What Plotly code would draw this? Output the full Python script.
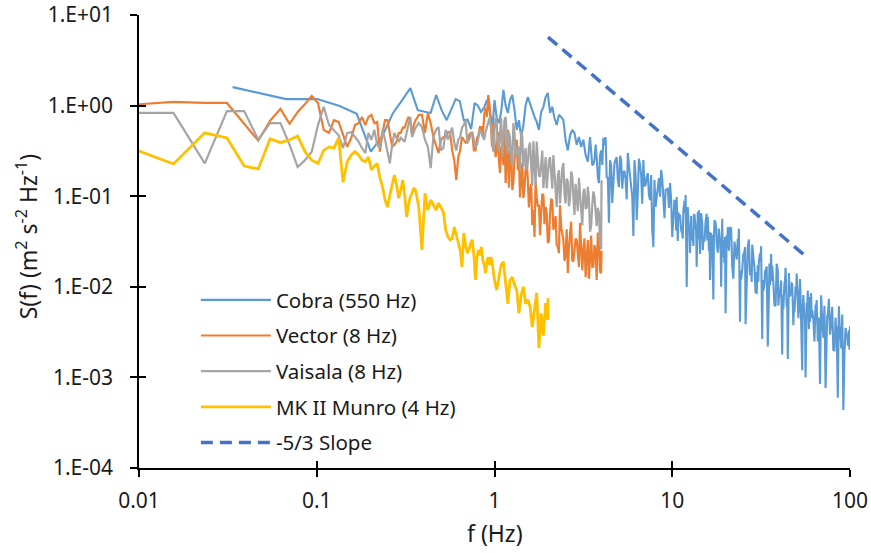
import plotly.graph_objects as go

# ---------------- data ----------------
# low-frequency spectral bins (Hz) for the 8 Hz / 4 Hz sensors
f_low = [0.00781, 0.01563, 0.02344, 0.03125, 0.03906, 0.04688, 0.05469, 0.0625, 0.07031, 0.07813,
         0.08594, 0.09375, 0.1016, 0.1094, 0.1172, 0.125, 0.1328, 0.1406, 0.1484, 0.1563,
         0.1641, 0.1719, 0.1797, 0.1875, 0.1953, 0.2031, 0.2109, 0.2188, 0.2266, 0.2344,
         0.2422, 0.25, 0.2578, 0.2656, 0.2734, 0.2813, 0.2891, 0.2969, 0.3047, 0.3125,
         0.3203, 0.3281, 0.3359, 0.3438, 0.3516, 0.3594, 0.3672, 0.375]
f_mid = [0.3906, 0.4063, 0.4219, 0.4375, 0.4531, 0.4688, 0.4844, 0.5, 0.5156, 0.5313,
         0.5469, 0.5625, 0.5781, 0.5938, 0.6094, 0.625, 0.6406, 0.6563, 0.6719, 0.6875,
         0.7031, 0.7188, 0.7344, 0.75, 0.7656, 0.7813, 0.7969, 0.8125, 0.8281, 0.8438,
         0.8594, 0.875, 0.8906, 0.9063, 0.9219, 0.9375, 0.9531, 0.9688, 0.9844, 1.0]
f_dec1 = [1.000, 1.029, 1.059, 1.090, 1.122, 1.155, 1.189, 1.223, 1.259, 1.296,
          1.334, 1.372, 1.413, 1.454, 1.496, 1.540, 1.585, 1.631, 1.679, 1.728,
          1.778, 1.830, 1.884, 1.939, 1.995, 2.054, 2.113, 2.175, 2.239, 2.304,
          2.371, 2.441, 2.512, 2.585, 2.661, 2.738, 2.818, 2.901, 2.985, 3.073,
          3.162, 3.255, 3.350, 3.447, 3.548, 3.652, 3.758, 3.868, 3.981, 4.097,
          4.217, 4.340, 4.467, 4.597, 4.732, 4.870, 5.012, 5.158, 5.309, 5.464,
          5.623, 5.788, 5.957, 6.131, 6.310, 6.494, 6.683, 6.879, 7.079, 7.286,
          7.499, 7.718, 7.943, 8.175, 8.414, 8.660, 8.913, 9.173, 9.441, 9.716]
f_half1 = [1.014, 1.044, 1.074, 1.106, 1.138, 1.172, 1.206, 1.241, 1.277, 1.315,
           1.353, 1.392, 1.433, 1.475, 1.518, 1.562, 1.608, 1.655, 1.703, 1.753,
           1.804, 1.857, 1.911, 1.967, 2.024, 2.084, 2.144, 2.207, 2.271, 2.337,
           2.405, 2.476, 2.548, 2.622, 2.700, 2.778, 2.859, 2.943, 3.028, 3.118,
           3.208, 3.302, 3.399, 3.497, 3.599, 3.705, 3.813, 3.924, 4.039, 4.156,
           4.278, 4.403, 4.532, 4.664, 4.801, 4.941, 5.085, 5.233, 5.386, 5.543,
           5.705, 5.872, 6.043, 6.220, 6.401, 6.588, 6.780, 6.979, 7.182, 7.392,
           7.608, 7.830, 8.058, 8.294, 8.536, 8.786, 9.042, 9.306, 9.578, 9.857]
f_dec2 = [10.00, 10.29, 10.59, 10.90, 11.22, 11.55, 11.89, 12.23, 12.59, 12.96,
          13.34, 13.72, 14.13, 14.54, 14.96, 15.40, 15.85, 16.31, 16.79, 17.28,
          17.78, 18.30, 18.84, 19.39, 19.95, 20.54, 21.13, 21.75, 22.39, 23.04,
          23.71, 24.41, 25.12, 25.85, 26.61, 27.38, 28.18, 29.01, 29.85, 30.73,
          31.62, 32.55, 33.50, 34.47, 35.48, 36.52, 37.58, 38.68, 39.81, 40.97,
          42.17, 43.40, 44.67, 45.97, 47.32, 48.70, 50.12, 51.58, 53.09, 54.64,
          56.23, 57.88, 59.57, 61.31, 63.10, 64.94, 66.83, 68.79, 70.79, 72.86,
          74.99, 77.18, 79.43, 81.75, 84.14, 86.60, 89.13, 91.73, 94.41, 97.16, 100.0]
f_half2 = [10.14, 10.44, 10.74, 11.06, 11.38, 11.72, 12.06, 12.41, 12.77, 13.15,
           13.53, 13.92, 14.33, 14.75, 15.18, 15.62, 16.08, 16.55, 17.03, 17.53,
           18.04, 18.57, 19.11, 19.67, 20.24, 20.84, 21.44, 22.07, 22.71, 23.37,
           24.05, 24.76, 25.48, 26.22, 27.00, 27.78, 28.59, 29.43, 30.28, 31.18,
           32.08, 33.02, 33.99, 34.97, 35.99, 37.05, 38.13, 39.24, 40.39, 41.56,
           42.78, 44.03, 45.32, 46.64, 48.01, 49.41, 50.85, 52.33, 53.86, 55.43,
           57.05, 58.72, 60.43, 62.20, 64.01, 65.88, 67.80, 69.79, 71.82, 73.92,
           76.08, 78.30, 80.58, 82.94, 85.36, 87.86, 90.42, 93.06, 95.78, 98.57]
f_qtr2 = [10.22, 10.51, 10.82, 11.14, 11.46, 11.80, 12.15, 12.50, 12.86, 13.24,
          13.63, 14.02, 14.44, 14.86, 15.29, 15.74, 16.20, 16.67, 17.16, 17.66,
          18.17, 18.70, 19.25, 19.81, 20.38, 20.99, 21.59, 22.22, 22.88, 23.54,
          24.23, 24.94, 25.67, 26.41, 27.19, 27.98, 28.79, 29.64, 30.50, 31.40,
          32.31, 33.26, 34.23, 35.22, 36.25, 37.32, 38.40, 39.52, 40.68, 41.86,
          43.09, 44.35, 45.64, 46.97, 48.35, 49.76, 51.21, 52.70, 54.25, 55.83,
          57.46, 59.14, 60.87, 62.65, 64.48, 66.36, 68.29, 70.29, 72.33, 74.45,
          76.62, 78.86, 81.16, 83.53, 85.97, 88.49, 91.07, 93.73, 96.47, 99.28]

# Cobra (550 Hz)
cobra_f_low = [0.0336, 0.0672, 0.1008, 0.1344, 0.168, 0.2016, 0.2352, 0.2688, 0.3024, 0.336,
               0.370, 0.403, 0.437, 0.470, 0.504, 0.538, 0.571, 0.605, 0.638, 0.672,
               0.706, 0.739, 0.773, 0.806, 0.840, 0.874, 0.907, 0.941, 0.974]
cobra_s_low = [1.60, 1.18, 1.18, 0.99, 0.81, 0.31, 0.47, 0.83, 1.15, 1.56,
               0.89, 0.85, 0.83, 1.31, 0.89, 0.69, 0.89, 1.18, 1.12, 0.69,
               0.70, 0.55, 1.07, 1.00, 0.85, 0.95, 1.15, 0.85, 0.58]
cobra_s_dec1 = [1.15, 0.73, 0.64, 0.85, 1.49, 1.0, 0.83, 1.15, 1.31, 0.89,
                0.54, 0.69, 0.45, 0.61, 1.0, 1.24, 1.07, 0.89, 0.75, 0.66,
                0.54, 0.85, 0.97, 1.24, 1.38, 0.83, 0.97, 0.73, 0.61, 0.79,
                0.75, 0.69, 0.42, 0.32, 0.47, 0.54, 0.50, 0.37, 0.45, 0.35,
                0.42, 0.285, 0.24, 0.45, 0.22, 0.25, 0.27, 0.14, 0.32, 0.44,
                0.45, 0.163, 0.25, 0.084, 0.23, 0.27, 0.126, 0.25, 0.185, 0.151,
                0.30, 0.171, 0.098, 0.25, 0.0545, 0.26, 0.171, 0.25, 0.133, 0.18,
                0.091, 0.0424, 0.151, 0.098, 0.159, 0.195, 0.076, 0.117, 0.123, 0.14]
# Cobra values at f_half1[44:]
cobra_s_half1 = [0.225, 0.372, 0.162, 0.282, 0.221, 0.366, 0.159, 0.0510, 0.217, 0.124,
                 0.253, 0.152, 0.279, 0.121, 0.190, 0.0922, 0.221, 0.140, 0.0363, 0.172,
                 0.108, 0.222, 0.0824, 0.129, 0.163, 0.103, 0.171, 0.0274, 0.0760, 0.119,
                 0.0985, 0.155, 0.0572, 0.117, 0.0741, 0.0938]
cobra_s_dec2 = [0.0355, 0.091, 0.098, 0.062, 0.0424, 0.070, 0.103, 0.076, 0.0236, 0.0424,
                0.062, 0.0166, 0.070, 0.065, 0.0329, 0.052, 0.059, 0.0119, 0.0373, 0.0545,
                0.0304, 0.044, 0.010, 0.0329, 0.0051, 0.0457,
                0.0453, 0.0166, 0.0315, 0.0200, 0.0436, 0.0121, 0.0230, 0.00387, 0.0278, 0.0134,
                0.0292, 0.0161, 0.00833, 0.0195, 0.0281, 0.00897, 0.0149, 0.00220, 0.0104, 0.0172,
                0.00628, 0.0180, 0.00758, 0.0117, 0.00565, 0.0162, 0.00160, 0.00802, 0.0108, 0.00520,
                0.0140, 0.00586, 0.00371, 0.00809, 0.000995, 0.00912, 0.00411, 0.00553, 0.00249, 0.00715,
                0.00424, 0.00805, 0.00275, 0.000762, 0.00468, 0.00297, 0.00603, 0.00193, 0.00366, 0.00608,
                0.00208, 0.000438, 0.00353, 0.00224, 0.00366]
cobra_s_half2 = [0.0550, 0.0774, 0.0321, 0.0611, 0.0388, 0.0887, 0.00998, 0.0405, 0.0604, 0.0283,
                 0.0449, 0.0670, 0.0231, 0.0497, 0.0316, 0.0640, 0.0249, 0.0395, 0.00724, 0.0508,
                 0.0238, 0.0315, 0.0565, 0.0183, 0.0371, 0.0250, 0.0442, 0.0123, 0.0250, 0.0338,
                 0.00411, 0.0156, 0.0241, 0.0116, 0.0333, 0.0161, 0.0232, 0.00850, 0.0173, 0.0234,
                 0.00265, 0.0108, 0.0167, 0.00804, 0.0230, 0.0111, 0.00614, 0.0154, 0.00850, 0.00179,
                 0.0110, 0.00607, 0.0142, 0.00838, 0.00377, 0.0101, 0.00641, 0.0122, 0.00120, 0.00457,
                 0.00661, 0.00340, 0.00851, 0.00440, 0.00636, 0.00249, 0.000848, 0.00424, 0.00612, 0.00275,
                 0.00738, 0.00407, 0.00197, 0.00458, 0.000597, 0.00260, 0.00494, 0.00181, 0.00280, 0.00330]
cobra_s_qtr2 = [0.0619, 0.0418, 0.0663, 0.0476, 0.0341, 0.0650, 0.0414, 0.0483, 0.0326, 0.0622,
                0.0421, 0.0340, 0.0477, 0.0253, 0.0482, 0.0325, 0.0405, 0.0273, 0.0340, 0.0448,
                0.0268, 0.0333, 0.0212, 0.0356, 0.0272, 0.0406, 0.0192, 0.0278, 0.0202, 0.0292,
                0.0151, 0.0203, 0.0274, 0.0151, 0.0191, 0.0113, 0.0201, 0.0146, 0.0114, 0.0188,
                0.0119, 0.0151, 0.00889, 0.0181, 0.0115, 0.00897, 0.0129, 0.00623, 0.0103, 0.00805,
                0.0116, 0.00643, 0.00809, 0.0109, 0.00603, 0.00814, 0.00450, 0.00800, 0.00581, 0.00453,
                0.00611, 0.00769, 0.00455, 0.00355, 0.00549, 0.00458, 0.00577, 0.00341, 0.00266, 0.00472,
                0.00344, 0.00531, 0.00256, 0.00346, 0.00269, 0.00363, 0.00200, 0.00271, 0.00297, 0.00202]

# Vector (8 Hz)
vector_s_low = [1.0, 1.10, 1.07, 1.07, 0.63, 0.41, 0.68, 0.92, 0.63, 0.85,
                1.04, 1.28, 1.07, 0.54, 0.50, 0.69, 0.66, 0.47, 0.35, 0.44,
                0.61, 0.64, 0.75, 0.61, 0.75, 0.79, 0.64, 0.66, 0.31, 0.50,
                0.69, 0.69, 0.47, 0.35, 0.37, 0.40, 0.50, 0.50, 0.57, 0.57,
                0.66, 0.75, 0.69, 0.47, 0.61, 0.69, 0.73, 0.79]
vector_s_mid = [0.79, 0.50, 0.83, 0.64, 0.45, 0.37, 0.30, 0.42, 0.45, 0.45,
                0.51, 0.51, 0.32, 0.25, 0.15, 0.27, 0.32, 0.45, 0.42, 0.39,
                0.39, 0.47, 0.50, 0.50, 0.32, 0.32, 0.44, 0.47, 0.58, 0.58,
                0.45, 0.79, 0.94, 0.75, 1.31, 1.02, 0.64, 0.35, 0.64, 0.39]
vector_s_high = [0.32, 0.25, 0.35, 0.22, 0.14, 0.54, 0.32, 0.117, 0.25, 0.42,
                 0.285, 0.171, 0.095, 0.195, 0.151, 0.117, 0.048, 0.0355, 0.097, 0.08,
                 0.065, 0.103, 0.076, 0.0304, 0.065, 0.091, 0.0506, 0.0289, 0.0236, 0.0457,
                 0.0329, 0.0224, 0.0142, 0.0355, 0.0198, 0.0255, 0.0329, 0.0166, 0.0289, 0.0255,
                 0.0128, 0.0329, 0.0236, 0.0166, 0.0289, 0.0119, 0.0355, 0.0142]
vector_s_half = [0.271, 0.513, 0.181, 0.342, 0.563, 0.230, 0.124, 0.308, 0.144, 0.361,
                 0.194, 0.0968, 0.234, 0.121, 0.254, 0.0750, 0.137, 0.0708, 0.149, 0.0768,
                 0.0372, 0.106, 0.0492, 0.0647, 0.0322, 0.0920, 0.0426, 0.0604, 0.0279, 0.0798,
                 0.0381, 0.0194, 0.0431, 0.0272, 0.0523, 0.0189, 0.0340, 0.0214, 0.0508, 0.0152,
                 0.0343, 0.0220, 0.0123, 0.0368, 0.0167, 0.0248, 0.0396, 0.0146]
vector_s_end = 0.025

# Vaisala (8 Hz)
vaisala_s_low = [0.83, 0.83, 0.23, 0.87, 0.87, 0.42, 0.64, 0.64, 0.37, 0.21,
                 0.25, 0.31, 0.61, 0.97, 0.61, 0.54, 0.47, 0.34, 0.50, 0.51,
                 0.45, 0.40, 0.34, 0.30, 0.50, 0.42, 0.54, 0.37, 0.34, 0.54,
                 0.42, 0.31, 0.23, 0.37, 0.50, 0.44, 0.40, 0.44, 0.42, 0.40,
                 0.50, 0.61, 0.75, 0.45, 0.52, 0.57, 0.60, 0.64]
vaisala_s_mid = [0.58, 0.42, 0.35, 0.204, 0.45, 0.54, 0.58, 0.32, 0.34, 0.54,
                 0.42, 0.50, 0.57, 0.39, 0.32, 0.42, 0.45, 0.57, 0.61, 0.69,
                 0.39, 0.42, 0.47, 0.51, 0.42, 0.35, 0.37, 0.47, 0.54, 0.50,
                 0.45, 0.42, 0.51, 0.58, 0.66, 0.73, 0.61, 0.42, 0.31, 0.54]
vaisala_s_high = [0.65, 0.32, 0.73, 0.41, 0.75, 0.30, 0.44, 0.22, 0.50, 0.28,
                  0.33, 0.52, 0.21, 0.34, 0.235, 0.39, 0.131, 0.255, 0.40, 0.168,
                  0.26, 0.123, 0.27, 0.174, 0.27, 0.121, 0.179, 0.0756, 0.193, 0.126,
                  0.232, 0.083, 0.145, 0.094, 0.164, 0.062, 0.102, 0.160, 0.067, 0.111,
                  0.0726, 0.127, 0.0405, 0.0787, 0.099, 0.0466, 0.065, 0.026]
vaisala_s_half = [0.739, 0.367, 0.543, 0.269, 0.689, 0.381, 0.506, 0.250, 0.641, 0.285,
                  0.358, 0.198, 0.454, 0.280, 0.193, 0.355, 0.219, 0.404, 0.129, 0.265,
                  0.164, 0.319, 0.197, 0.122, 0.250, 0.154, 0.284, 0.113, 0.168, 0.0830,
                  0.201, 0.105, 0.156, 0.0774, 0.187, 0.104, 0.137, 0.0683, 0.101, 0.0475,
                  0.121, 0.0748, 0.0938, 0.0467, 0.113, 0.0560, 0.0745, 0.0297]
vaisala_s_end = 0.15

# MK II Munro (4 Hz)
munro_s_low = [0.38, 0.227, 0.50, 0.44, 0.215, 0.20, 0.43, 0.39, 0.42, 0.46,
               0.31, 0.25, 0.23, 0.32, 0.35, 0.34, 0.44, 0.143, 0.24, 0.285,
               0.31, 0.285, 0.25, 0.24, 0.27, 0.195, 0.215, 0.23, 0.159, 0.126,
               0.091, 0.076, 0.103, 0.14, 0.171, 0.133, 0.095, 0.117, 0.151, 0.103,
               0.059, 0.08, 0.098, 0.108, 0.123, 0.117, 0.091, 0.076]
munro_s_mid = [0.0255, 0.108, 0.070, 0.091, 0.08, 0.070, 0.084, 0.074, 0.067, 0.0424,
               0.0355, 0.0329, 0.034, 0.0457, 0.0373, 0.0329, 0.0255, 0.0166, 0.0393, 0.0289,
               0.0236, 0.0255, 0.0304, 0.0329, 0.0224, 0.0119, 0.021, 0.0255, 0.0224, 0.0275,
               0.0198, 0.0174, 0.0142, 0.0189, 0.0213, 0.0174, 0.0213, 0.0189, 0.0146, 0.0119]
munro_s_high = [0.0092, 0.0135, 0.0174, 0.0189, 0.0119, 0.0065, 0.0119, 0.0128, 0.0105, 0.0092,
                0.0051, 0.0081, 0.010, 0.0065, 0.0072, 0.006, 0.0036, 0.0056, 0.0086, 0.0021,
                0.0051, 0.0029, 0.0066, 0.0043, 0.0075]

# -5/3 reference slope
slope_f = [2.0, 56.0]
slope_s = [5.7, 0.022]

y_tickvals = [1e-4, 1e-3, 1e-2, 1e-1, 1e0, 1e1]
y_ticktext = ["1.E-04", "1.E-03", "1.E-02", "1.E-01", "1.E+00", "1.E+01"]
x_tickvals = [0.01, 0.1, 1, 10, 100]
x_ticktext = ["0.01", "0.1", "1", "10", "100"]


# ---------------- assemble series (merge bins, ordered by frequency) ----------------
def merged(*pairs):
    pts = []
    for fx, sy in pairs:
        pts.extend(zip(fx, sy))
    pts.sort(key=lambda p: p[0])
    return [p[0] for p in pts], [p[1] for p in pts]


cobra_f, cobra_s = merged((cobra_f_low, cobra_s_low), (f_dec1, cobra_s_dec1),
                          (f_half1[44:], cobra_s_half1), (f_dec2, cobra_s_dec2),
                          (f_half2, cobra_s_half2), (f_qtr2, cobra_s_qtr2))
vector_f, vector_s = merged((f_low, vector_s_low), (f_mid, vector_s_mid),
                            (f_dec1[1:49], vector_s_high), (f_half1[:48], vector_s_half),
                            ([4.0], [vector_s_end]))
vaisala_f, vaisala_s = merged((f_low, vaisala_s_low), (f_mid, vaisala_s_mid),
                              (f_dec1[1:49], vaisala_s_high), (f_half1[:48], vaisala_s_half),
                              ([4.0], [vaisala_s_end]))
munro_f, munro_s = merged((f_low, munro_s_low), (f_mid, munro_s_mid),
                          (f_dec1[1:25] + [2.0], munro_s_high))

FONT = "Noto Sans"
TXT = "#1a1a1a"
fig = go.Figure()
series = [
    ("Cobra (550 Hz)", cobra_f, cobra_s, "#5B9BD5", 2.1, "solid"),
    ("Vector (8 Hz)", vector_f, vector_s, "#ED7D31", 2.2, "solid"),
    ("Vaisala (8 Hz)", vaisala_f, vaisala_s, "#A5A5A5", 2.2, "solid"),
    ("MK II Munro (4 Hz)", munro_f, munro_s, "#FFC000", 2.8, "solid"),
    ("-5/3 Slope", slope_f, slope_s, "#4472C4", 3.5, "12px,7px"),
]
for i, (name, fx, sy, col, w, dash) in enumerate(series):
    fig.add_trace(go.Scatter(x=fx, y=sy, mode="lines", name=name, legendgroup=f"g{i}",
                             line=dict(color=col, width=w, dash=dash)))

# invisible helper trace for the inside half of the crossing tick marks
fig.add_trace(go.Scatter(x=[None], y=[None], xaxis="x2", yaxis="y2", showlegend=False,
                         hoverinfo="skip", mode="lines"))

axis_common = dict(type="log", showgrid=False, zeroline=False, automargin=False)
fig.update_layout(
    width=871, height=553,
    margin=dict(l=139, r=21, t=15, b=85),
    paper_bgcolor="white", plot_bgcolor="white",
    font=dict(family=FONT, size=20, color=TXT),
    xaxis=dict(**axis_common, range=[-2, 2], tickvals=x_tickvals, ticktext=x_ticktext,
               showline=True, linecolor="black", linewidth=1.6,
               ticks="outside", ticklen=7, tickwidth=1.6, tickcolor="black",
               ticklabelstandoff=6, tickfont=dict(size=21, family=FONT, color=TXT)),
    yaxis=dict(**axis_common, range=[-4, 1], tickvals=y_tickvals, ticktext=y_ticktext,
               showline=True, linecolor="black", linewidth=1.6,
               ticks="outside", ticklen=7, tickwidth=1.6, tickcolor="black",
               ticklabelstandoff=13, tickfont=dict(size=21, family=FONT, color=TXT)),
    xaxis2=dict(**axis_common, range=[-2, 2], overlaying="x", anchor="y", side="bottom",
                tickvals=x_tickvals, showticklabels=False, showline=False,
                ticks="inside", ticklen=7, tickwidth=1.6, tickcolor="black"),
    yaxis2=dict(**axis_common, range=[-4, 1], overlaying="y", anchor="x", side="left",
                tickvals=y_tickvals, showticklabels=False, showline=False,
                ticks="inside", ticklen=7, tickwidth=1.6, tickcolor="black"),
    showlegend=True,
    legend=dict(x=0.08, y=0.415, xanchor="left", yanchor="top", bgcolor="rgba(0,0,0,0)",
                font=dict(size=20.5, family=FONT, color=TXT),
                tracegroupgap=6, itemwidth=70),
    annotations=[
        dict(text="f (Hz)", xref="paper", yref="paper", x=0.5007, y=-0.1435,
             xanchor="center", yanchor="middle", showarrow=False,
             font=dict(size=23, family=FONT, color=TXT)),
        dict(text="S(f) (m<sup>2</sup> s<sup>-2</sup> Hz<sup>-1</sup>)", xref="paper", yref="paper",
             x=-0.157, y=0.51, xanchor="center", yanchor="middle", textangle=-90, showarrow=False,
             font=dict(size=23, family=FONT, color=TXT)),
    ],
)
fig.write_html("out.html", config={"displayModeBar": False},
               post_script="document.body.style.margin='0px';")
